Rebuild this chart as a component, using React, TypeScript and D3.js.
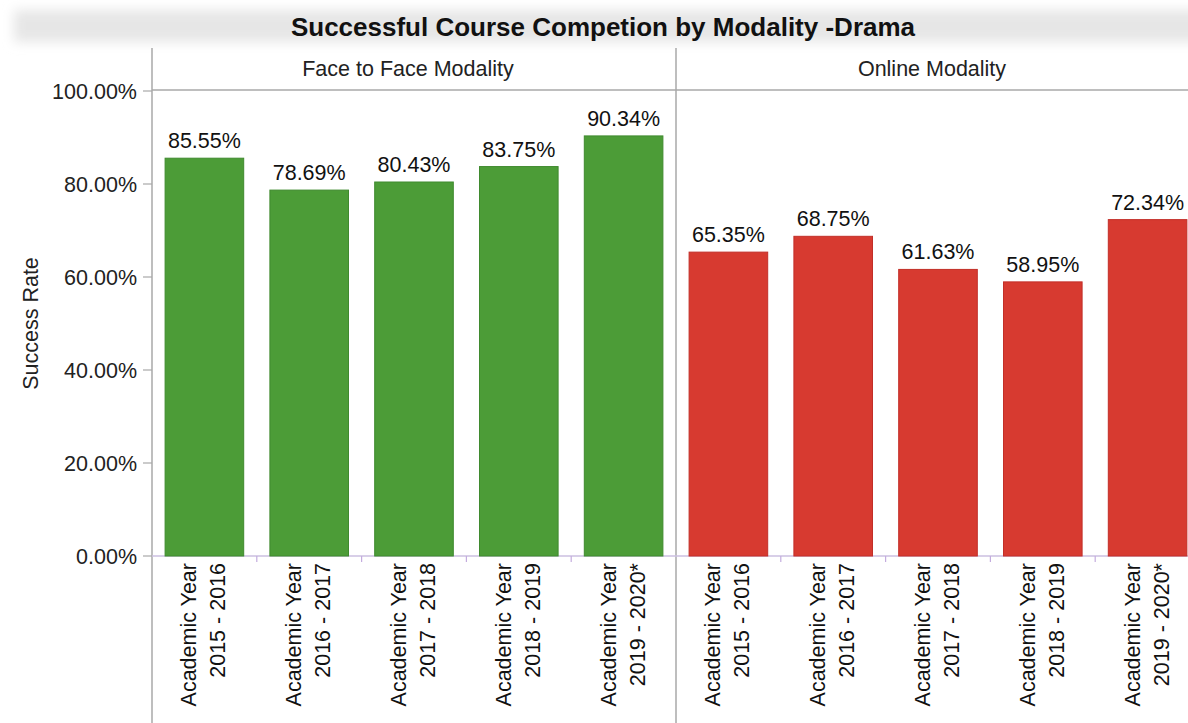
import React from "react";
import * as d3 from "d3";

const title = "Successful Course Competion by Modality -Drama";
const panels = ["Face to Face Modality", "Online Modality"];
const yearLine1 = ["Academic Year", "Academic Year", "Academic Year", "Academic Year", "Academic Year"];
const yearLine2 = ["2015 - 2016", "2016 - 2017", "2017 - 2018", "2018 - 2019", "2019 - 2020*"];
const faceToFace = [85.55, 78.69, 80.43, 83.75, 90.34];
const online = [65.35, 68.75, 61.63, 58.95, 72.34];
const yTicks = [0, 20, 40, 60, 80, 100];
const yLabel = "Success Rate";

const W = 1188;
const H = 723;
const FONT = "'Liberation Sans', Arial, Helvetica, sans-serif";
const FS = 21.5;
const colors = ["#4c9c37", "#d73a30"];
const strokes = ["#3f8a2e", "#c22f28"];

export default function App() {
  const y = d3.scaleLinear().domain([0, 100]).range([556, 91]);
  const panelW = 524;
  const panelX = [152, 676];
  const series = [faceToFace, online];
  const fmt = (v: number) => v.toFixed(2) + "%";

  return (
    <svg
      width={W}
      height={H}
      style={{ position: "absolute", left: 0, top: 0, background: "#fff" }}
      fontFamily={FONT}
    >
      <defs>
        <filter id="blur" x="-10%" y="-50%" width="120%" height="200%">
          <feGaussianBlur stdDeviation="6" />
        </filter>
      </defs>
      <rect x={14} y={10} width={1190} height={32} fill="#e6e6e6" filter="url(#blur)" />
      <text x={603} y={36} textAnchor="middle" fontSize={26} fontWeight="bold" fill="#111">
        {title}
      </text>

      {/* panel frame lines */}
      <line x1={152} x2={1188} y1={90} y2={90} stroke="#a8a8a8" strokeWidth={1.5} />
      {panelX.map((px, i) => (
        <line key={"v" + i} x1={px} x2={px} y1={48} y2={H} stroke="#a8a8a8" strokeWidth={1.5} />
      ))}

      {/* y axis */}
      {yTicks.map((t) => (
        <g key={"yt" + t}>
          <line x1={143} x2={152} y1={y(t)} y2={y(t)} stroke="#a8a8a8" strokeWidth={1.2} />
          <text x={137} y={y(t)} dy="0.35em" textAnchor="end" fontSize={FS} fill="#222">
            {fmt(t)}
          </text>
        </g>
      ))}
      <text
        transform={`translate(38,${y(50)}) rotate(-90)`}
        textAnchor="middle"
        fontSize={FS}
        fill="#222"
      >
        {yLabel}
      </text>

      {panels.map((p, pi) => {
        const x = d3
          .scaleBand<number>()
          .domain(d3.range(yearLine2.length))
          .range([panelX[pi], panelX[pi] + panelW])
          .paddingInner(0.25)
          .paddingOuter(0.125);
        const step = x.step();
        const vals = series[pi];
        return (
          <g key={"p" + pi}>
            <text
              x={panelX[pi] + panelW / 2 - 6}
              y={76}
              textAnchor="middle"
              fontSize={FS}
              fill="#222"
            >
              {p}
            </text>
            <line
              x1={panelX[pi]}
              x2={Math.min(panelX[pi] + panelW, W)}
              y1={y(0)}
              y2={y(0)}
              stroke="#cbbfe0"
              strokeWidth={1.5}
            />
            {d3.range(1, vals.length).map((i) => (
              <line
                key={"xt" + i}
                x1={panelX[pi] + i * step}
                x2={panelX[pi] + i * step}
                y1={y(0)}
                y2={y(0) + 6}
                stroke="#c4acde"
                strokeWidth={1.2}
              />
            ))}
            {vals.map((v, i) => {
              const bx = x(i) as number;
              const bw = x.bandwidth();
              const cx = bx + bw / 2;
              return (
                <g key={"b" + i}>
                  <rect
                    x={bx}
                    y={y(v)}
                    width={bw}
                    height={y(0) - y(v)}
                    fill={colors[pi]}
                    stroke={strokes[pi]}
                    strokeWidth={1}
                  />
                  <text x={cx} y={y(v) - 10} textAnchor="middle" fontSize={FS} fill="#111">
                    {fmt(v)}
                  </text>
                  <text
                    transform={`translate(${cx - 8},563) rotate(-90)`}
                    textAnchor="end"
                    fontSize={FS}
                    fill="#111"
                  >
                    {yearLine1[i]}
                  </text>
                  <text
                    transform={`translate(${cx + 21},563) rotate(-90)`}
                    textAnchor="end"
                    fontSize={FS}
                    fill="#111"
                  >
                    {yearLine2[i]}
                  </text>
                </g>
              );
            })}
          </g>
        );
      })}
    </svg>
  );
}
